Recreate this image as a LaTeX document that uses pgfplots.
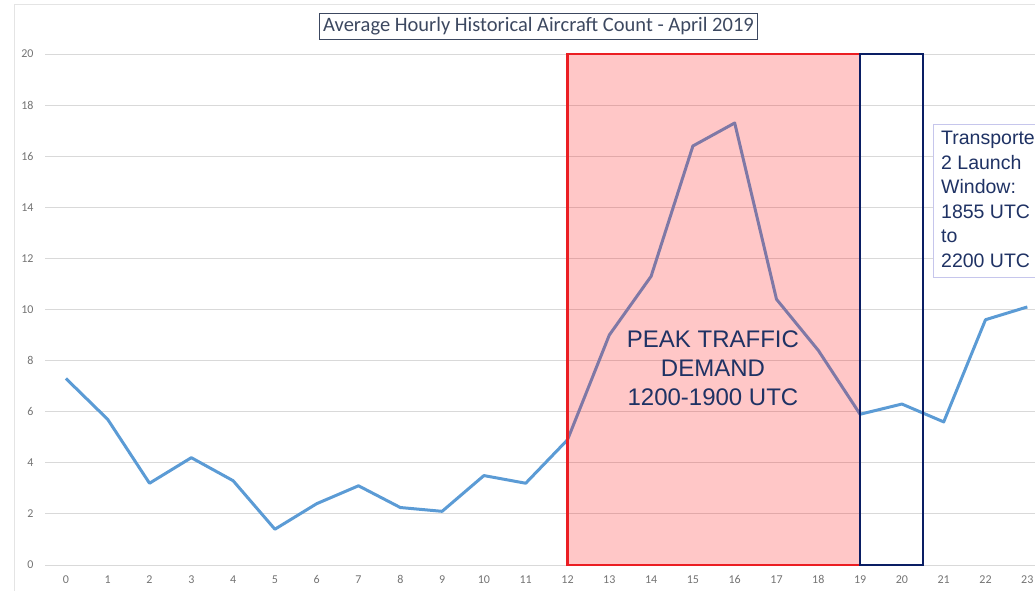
\documentclass[border=0pt]{standalone}
\usepackage{pgfplots}
\pgfplotsset{compat=1.18}
\usepackage{fontspec}
\setmainfont{Carlito}
\newfontfamily\arialfont{Liberation Sans}
\definecolor{lineblue}{RGB}{91,155,213}
\definecolor{boxred}{RGB}{235,30,35}
\definecolor{navy}{RGB}{10,30,100}
\definecolor{annot}{RGB}{31,50,100}
\definecolor{titlec}{RGB}{60,72,96}
\definecolor{gridc}{RGB}{217,217,217}
\definecolor{tickc}{RGB}{115,115,115}
\begin{document}
\begin{tikzpicture}[x=1pt,y=1pt]
\useasboundingbox (0,0) rectangle (1035,591);
\draw[gridc!70, line width=0.8pt] (14,-10) -- (14,587) -- (1100,587);
\begin{axis}[
  at={(45pt,26pt)}, anchor=south west,
  scale only axis, width=1003.2pt, height=511pt,
  xmin=-0.5, xmax=23.5, ymin=0, ymax=20,
  xtick={0,...,23}, ytick={0,2,...,20},
  axis line style={draw=none},
  major tick length=0pt,
  ymajorgrids, grid style={gridc, line width=0.9pt},
  tick label style={font=\fontsize{12}{14}\selectfont, text=tickc},
  /pgf/number format/assume math mode=true,
  yticklabel style={anchor=east, xshift=-8pt},
  xticklabel style={anchor=base, yshift=-19pt},
  clip=false,
]
\addplot[lineblue, line width=3pt, line join=round] coordinates {
(0,7.3) (1,5.7) (2,3.2) (3,4.2) (4,3.3) (5,1.4) (6,2.4) (7,3.1) (8,2.25) (9,2.1)
(10,3.5) (11,3.2) (12,4.9) (13,9.0) (14,11.3) (15,16.4) (16,17.3) (17,10.4) (18,8.4)
(19,5.9) (20,6.3) (21,5.6) (22,9.6) (23,10.1)};
\fill[red, fill opacity=0.22] (axis cs:12,0) rectangle (axis cs:19,20);
\draw[boxred, line width=2.4pt] (axis cs:12,0) rectangle (axis cs:19,20);
\draw[navy, line width=2.4pt] (axis cs:19,0) rectangle (axis cs:20.5,20);
\node[align=center, text=annot, font=\arialfont\fontsize{24}{29}\selectfont] at (axis cs:15.48,7.71) {PEAK TRAFFIC\\DEMAND\\1200-1900 UTC};
\end{axis}
\draw[gray!50!blue!30, line width=1pt, fill=white] (933,591-125) rectangle (1200,591-278);
\node[anchor=north west, align=left, text=annot, font=\arialfont\fontsize{19.5}{24.5}\selectfont, inner sep=0pt] at (941,591-131) {Transporter\\2 Launch\\Window:\\1855 UTC\\to\\2200 UTC};
\node[draw=titlec, line width=1pt, text=titlec, font=\fontsize{20.5}{23}\selectfont, inner xsep=4pt, inner ysep=4pt] at (538.5,591-26.5) {Average Hourly Historical Aircraft Count - April 2019};
\end{tikzpicture}
\end{document}
